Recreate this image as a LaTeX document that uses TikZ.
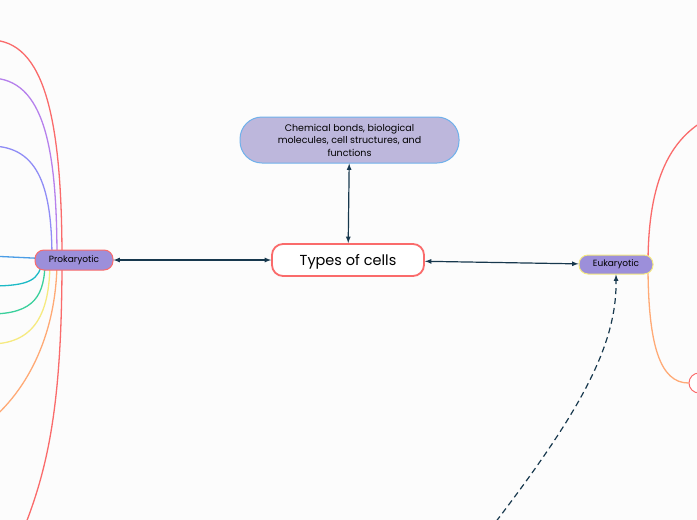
\documentclass[tikz,border=0pt]{standalone}
\usepackage{fontspec}
\setmainfont{Poppins}
\usetikzlibrary{calc}
\definecolor{navy}{HTML}{17384D}
\definecolor{coral}{HTML}{FA6B6B}
\definecolor{lilac}{HTML}{B680EC}
\definecolor{periw}{HTML}{8F8CF6}
\definecolor{skyb}{HTML}{4B9DE6}
\definecolor{teal2}{HTML}{1CBAC6}
\definecolor{mint}{HTML}{3AD09C}
\definecolor{lemon}{HTML}{F6EA80}
\definecolor{peach}{HTML}{FFAA76}
\definecolor{violet2}{HTML}{9C8FDA}
\definecolor{lavender}{HTML}{BDB7DC}
\definecolor{bgcol}{HTML}{FCFCFC}
\pgfdeclarelayer{bg}
\pgfsetlayers{bg,main}

\begin{document}
\begin{tikzpicture}[x=1pt,y=-1pt]
    \tikzset{
        branch/.style={line width=1.3pt},
        link/.style={navy, line width=1.2pt, latex-latex},
        topic/.style={draw=coral, fill=violet2, line width=1pt, inner sep=0pt,
            minimum height=20pt, rounded corners=9pt, font=\fontsize{9}{10}\selectfont}
    }
    \useasboundingbox (0,0) rectangle (697,520);
    \clip (0,0) rectangle (697,520);
    \node[draw=coral, fill=white, line width=1.8pt, inner sep=0pt, minimum width=152pt,
        minimum height=32pt, rounded corners=11pt, text height=14pt, text depth=3pt,
        font=\fontsize{14.5}{16}\selectfont]
        (types) at (348,260) {Types of cells};
    \node[draw=skyb!80, fill=lavender, line width=1pt, inner sep=0pt, minimum width=219pt,
        minimum height=46pt, rounded corners=22pt, align=center,
        font=\fontsize{9.5}{12.5}\selectfont]
        (chem) at (349.5,140) {Chemical bonds, biological\\molecules, cell structures, and\\functions};
    \node[topic, minimum width=78pt] (prok) at (74,260) {Prokaryotic};
    \node[topic, draw=lemon, minimum width=74pt, minimum height=19pt] (euk) at (616,264.5) {Eukaryotic};
    \node[draw=coral, fill=white, line width=1pt, minimum width=40pt, minimum height=20pt,
        rounded corners=10pt] (cell) at (709,383) {};
    \coordinate (p1) at (-10,40);
    \coordinate (p2) at (-10,78);
    \coordinate (p3) at (-10,146);
    \coordinate (p4) at (-10,256);
    \coordinate (p5) at (-10,286);
    \coordinate (p6) at (-10,314);
    \coordinate (p7) at (-10,344);
    \coordinate (p8) at (-15,425);
    \coordinate (p9) at (15,550);
    \coordinate (e1) at (715,115);
    \coordinate (d1) at (478,545);
    \begin{pgfonlayer}{bg}
        \fill[bgcol] (0,0) rectangle (697,520);
        \draw[branch, coral] ([xshift=-12pt]prok.center) .. controls (62,120) and (45,40) .. (p1);
        \draw[branch, lilac] ([xshift=-17pt]prok.center) .. controls (57,150) and (45,78) .. (p2);
        \draw[branch, periw] ([xshift=-22pt]prok.center) .. controls (52,190) and (40,146) .. (p3);
        \draw[branch, skyb] (prok.center) -- (p4);
        \draw[branch, teal2] ([xshift=-32pt]prok.center) .. controls (40,280) and (30,286) .. (p5);
        \draw[branch, mint] ([xshift=-29pt]prok.center) .. controls (45,295) and (35,314) .. (p6);
        \draw[branch, lemon] ([xshift=-24pt]prok.center) .. controls (50,305) and (40,344) .. (p7);
        \draw[branch, peach] ([xshift=-17pt]prok.center) .. controls (57,330) and (30,390) .. (p8);
        \draw[branch, coral] ([xshift=-12pt]prok.center) .. controls (62,420) and (45,480) .. (p9);
        \draw[branch, coral] ([xshift=32pt]euk.center) .. controls (648,180) and (670,135) .. (e1);
        \draw[branch, peach] ([xshift=32pt]euk.center) .. controls (648,345) and (660,383) .. (cell.west);
    \end{pgfonlayer}
    \draw[link] (prok) -- (types);
    \draw[link] (types) -- (chem);
    \draw[link] (types) -- (euk);
    \draw[navy, line width=1.2pt, dashed, dash pattern=on 6pt off 4pt, -latex]
        (d1) .. controls (575,420) and (617,350) .. (euk.south);
\end{tikzpicture}
\end{document}
